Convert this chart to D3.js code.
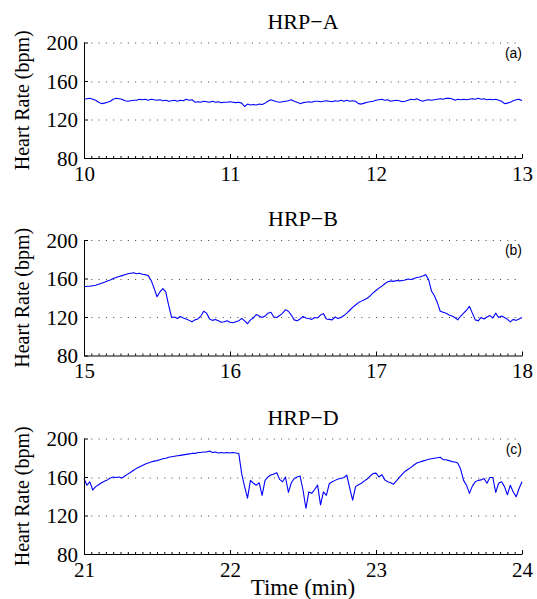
<!DOCTYPE html>
<html>
<head>
<meta charset="utf-8">
<script src="https://cdn.jsdelivr.net/npm/d3@7"></script>
<style>
  body { margin: 0; background: #fff; }
  .serif { font-family: "Liberation Serif", "Times New Roman", serif; fill: #000; }
  .tag { font-family: "Liberation Sans", Arial, sans-serif; fill: #000; }
</style>
</head>
<body>
<svg id="chart" width="537" height="599"></svg>
<script>
// heart rate samples, one every 0.02 min
var sampleStep = 0.02;
var titles = ["HRP\u2212A", "HRP\u2212B", "HRP\u2212D"];
var tags = ["(a)", "(b)", "(c)"];
var startMin = [10, 15, 21];
var yTicks = [80, 120, 160, 200];

var hrpA = [
  141, 141.5, 142, 141, 140,   138, 136.5, 137, 138, 139,
  141, 142, 141.5, 141, 139.5, 139, 139.5, 140, 140, 141,
  140.5, 141, 140, 141, 140.5, 140, 140.5, 139.5, 140, 139,
  139.5, 140, 139, 140, 139.5, 141, 140, 140.5, 138, 138.5,
  138, 139, 138.5, 138, 139,   138, 138.5, 137.5, 138, 138,
  138.5, 138, 137.5, 138, 137, 133.5, 136, 135, 135.5, 135,
  136, 135.5, 137, 139, 140.5, 139.5, 138.5, 138, 138.5, 139,
  139.5, 140.5, 139, 138, 136.5, 137.5, 138, 138.5, 138, 139,
  139, 138.5, 139, 139.5, 139, 138.5, 139.5, 139, 140, 139,
  140, 139, 139.5, 139, 136.5, 136, 137, 138, 138.5, 139,
  140, 140.5, 141, 140, 140.5, 139, 139.5, 140, 139.5, 138.5,
  139, 140, 141, 140.5, 141.5, 140, 139, 140, 140.5, 140,
  140.5, 141, 141.5, 141, 142, 142, 141.5, 140, 141, 140.5,
  141, 140.5, 141, 141.5, 141, 142, 141, 141.5, 140.5, 141,
  140.5, 141, 140, 139, 136.5, 137, 138, 139.5, 140.5, 141,
  139.5
];

var hrpB = [
  151.5, 152, 152, 152.5, 153, 154, 155, 156, 157.5, 158.5,
  160, 161, 162, 163, 164,     165, 165.5, 166, 165, 165.5,
  164.5, 164, 163, 158, 150,   141, 146, 149.5, 146, 132,
  119.5, 120, 118.5, 120.5, 119, 118, 116.5, 115, 117, 118,
  121, 126, 124, 118, 116.5,   117.5, 116, 114.5, 115, 116,
  114.5, 114, 115, 116, 118.5, 116, 113, 117, 119, 122.5,
  121, 119.5, 121, 124, 125,   120, 119.5, 121.5, 124, 127.5,
  126, 122, 117, 116, 118,     120.5, 119, 118.5, 117.5, 119.5,
  119, 122, 123.5, 118, 117.5, 117, 120, 118.5, 119.5, 121.5,
  124, 127, 130, 132.5, 135,   136.5, 138, 139.5, 142, 145,
  147.5, 150, 152, 154.5, 156.5, 157.5, 157, 158, 157.5, 158,
  158.5, 159.5, 159, 160, 161, 161.5, 162.5, 164, 159, 147,
  142, 135, 126, 125, 124,     122, 121, 119.5, 117, 121,
  124, 127, 131, 124, 117,     116, 119.5, 118, 120, 121.5,
  119, 124, 119.5, 121, 119.5, 117.5, 115, 117.5, 116.5, 118,
  119.5
];

var hrpD = [
  158.5, 151.5, 155, 146.5, 150, 152, 154, 155.5, 157, 159,
  160, 159.5, 160, 159, 161,   163, 165, 167, 169, 170.5,
  172, 173.5, 174.5, 175.5, 176.5, 177, 178, 179, 179.5, 180.5,
  181, 181.5, 182, 182.5, 183, 183.5, 184, 184.5, 184.5, 185.5,
  185.5, 186, 186, 187, 185.5, 186, 185, 185.5, 185, 185.5,
  185, 185.5, 185, 184.5, 163.5, 150, 138, 156.5, 153.5, 151.5,
  154, 141, 156.5, 160, 162,   163, 164.5, 157.5, 155, 160,
  144, 154, 158.5, 160, 161,   146.5, 127.5, 144.5, 143, 147,
  151.5, 131, 144.5, 141, 153, 155, 156.5, 158, 158.5, 159.5,
  162, 148.5, 136, 150, 152,   153.5, 156, 158, 161, 163.5,
  164, 160, 162.5, 157, 155,   154, 152.5, 156, 159.5, 163,
  166, 168, 170, 172.5, 174.5, 175.5, 176.5, 177.5, 178.5, 179,
  179.5, 180, 180.5, 178, 178, 177, 176, 175.5, 174.5, 168,
  156.5, 151.5, 143, 150.5, 155, 156.5, 157, 158.5, 153.5, 159.5,
  159.5, 144, 153.5, 155, 150, 141.5, 151.5, 144.5, 139.5, 148,
  155
];

var series = [hrpA, hrpB, hrpD];

var margin = {left: 84, right: 15};
var plotWidth = 537 - margin.left - margin.right;
var panelTops = [42.5, 240, 438.5];
var panelHeight = 115.5;

var svg = d3.select("#chart");

function DrawPanel(i)
{
  var t0 = startMin[i];
  var xScale = d3.scaleLinear()
                 .domain([t0, t0 + 3])
                 .range([0, plotWidth]);
  var yScale = d3.scaleLinear()
                 .domain([80, 200])
                 .range([panelHeight, 0]);

  var g = svg.append("g")
             .attr("transform", "translate(" + margin.left + "," + panelTops[i] + ")");

  // dotted grid
  g.selectAll(".grid")
   .data(yTicks.slice(1))
   .enter().append("line")
   .attr("x1", 0)
   .attr("x2", plotWidth)
   .attr("y1", function(d) {return Math.round(yScale(d)) + 0.5;})
   .attr("y2", function(d) {return Math.round(yScale(d)) + 0.5;})
   .attr("stroke", "#444")
   .attr("stroke-width", 1)
   .attr("stroke-dasharray", "1,6.3");

  var line = d3.line()
               .x(function(d, k) {return xScale(t0 + k * sampleStep);})
               .y(function(d) {return yScale(d);});

  g.append("path")
   .datum(series[i])
   .attr("d", line)
   .attr("fill", "none")
   .attr("stroke", "#0000ff")
   .attr("stroke-width", 1.1)
   .attr("stroke-linejoin", "round");

  // minor ticks every 0.05 min, pointing inward
  var minor = d3.range(0, 61).map(function(k) {return t0 + k * 0.05;});
  var minorAxis = d3.axisBottom(xScale)
                    .tickValues(minor)
                    .tickSize(-2)
                    .tickFormat("");
  var gm = g.append("g")
            .attr("transform", "translate(0," + panelHeight + ")")
            .call(minorAxis);
  gm.select(".domain").remove();

  var xAxis = d3.axisBottom(xScale)
                .tickValues([t0, t0 + 1, t0 + 2, t0 + 3])
                .tickSize(-4)
                .tickSizeOuter(0)
                .tickPadding(8)
                .tickFormat(d3.format("d"));
  var gx = g.append("g")
            .attr("transform", "translate(0," + panelHeight + ")")
            .call(xAxis);

  var yAxis = d3.axisLeft(yScale)
                .tickValues(yTicks)
                .tickSize(-4)
                .tickSizeOuter(0)
                .tickPadding(6);
  var gy = g.append("g").call(yAxis);

  [gx, gy].forEach(function(a)
  {
    a.selectAll("text")
     .attr("class", "serif")
     .style("font-size", "21px");
    a.selectAll(".domain, line").attr("stroke", "#000");
  });
  gx.selectAll("text").attr("dy", "0.7em");
  gy.selectAll("text").attr("dy", "0.35em");
  gm.selectAll("line").attr("stroke", "#000");

  g.append("text")
   .attr("class", "serif")
   .attr("x", plotWidth / 2)
   .attr("y", -14)
   .attr("text-anchor", "middle")
   .style("font-size", "22px")
   .text(titles[i]);

  g.append("text")
   .attr("class", "tag")
   .attr("x", plotWidth)
   .attr("y", 15)
   .attr("text-anchor", "end")
   .style("font-size", "14px")
   .text(tags[i]);

  g.append("text")
   .attr("class", "serif")
   .attr("transform", "translate(" + (29 - margin.left) + "," + (panelHeight / 2) + ") rotate(-90)")
   .attr("text-anchor", "middle")
   .style("font-size", "20px")
   .text("Heart Rate (bpm)");
}

for(var i = 0; i < 3; i++)
{
  DrawPanel(i);
}

svg.append("text")
   .attr("class", "serif")
   .attr("x", margin.left + plotWidth / 2)
   .attr("y", 595)
   .attr("text-anchor", "middle")
   .style("font-size", "23px")
   .text("Time (min)");
</script>
</body>
</html>
